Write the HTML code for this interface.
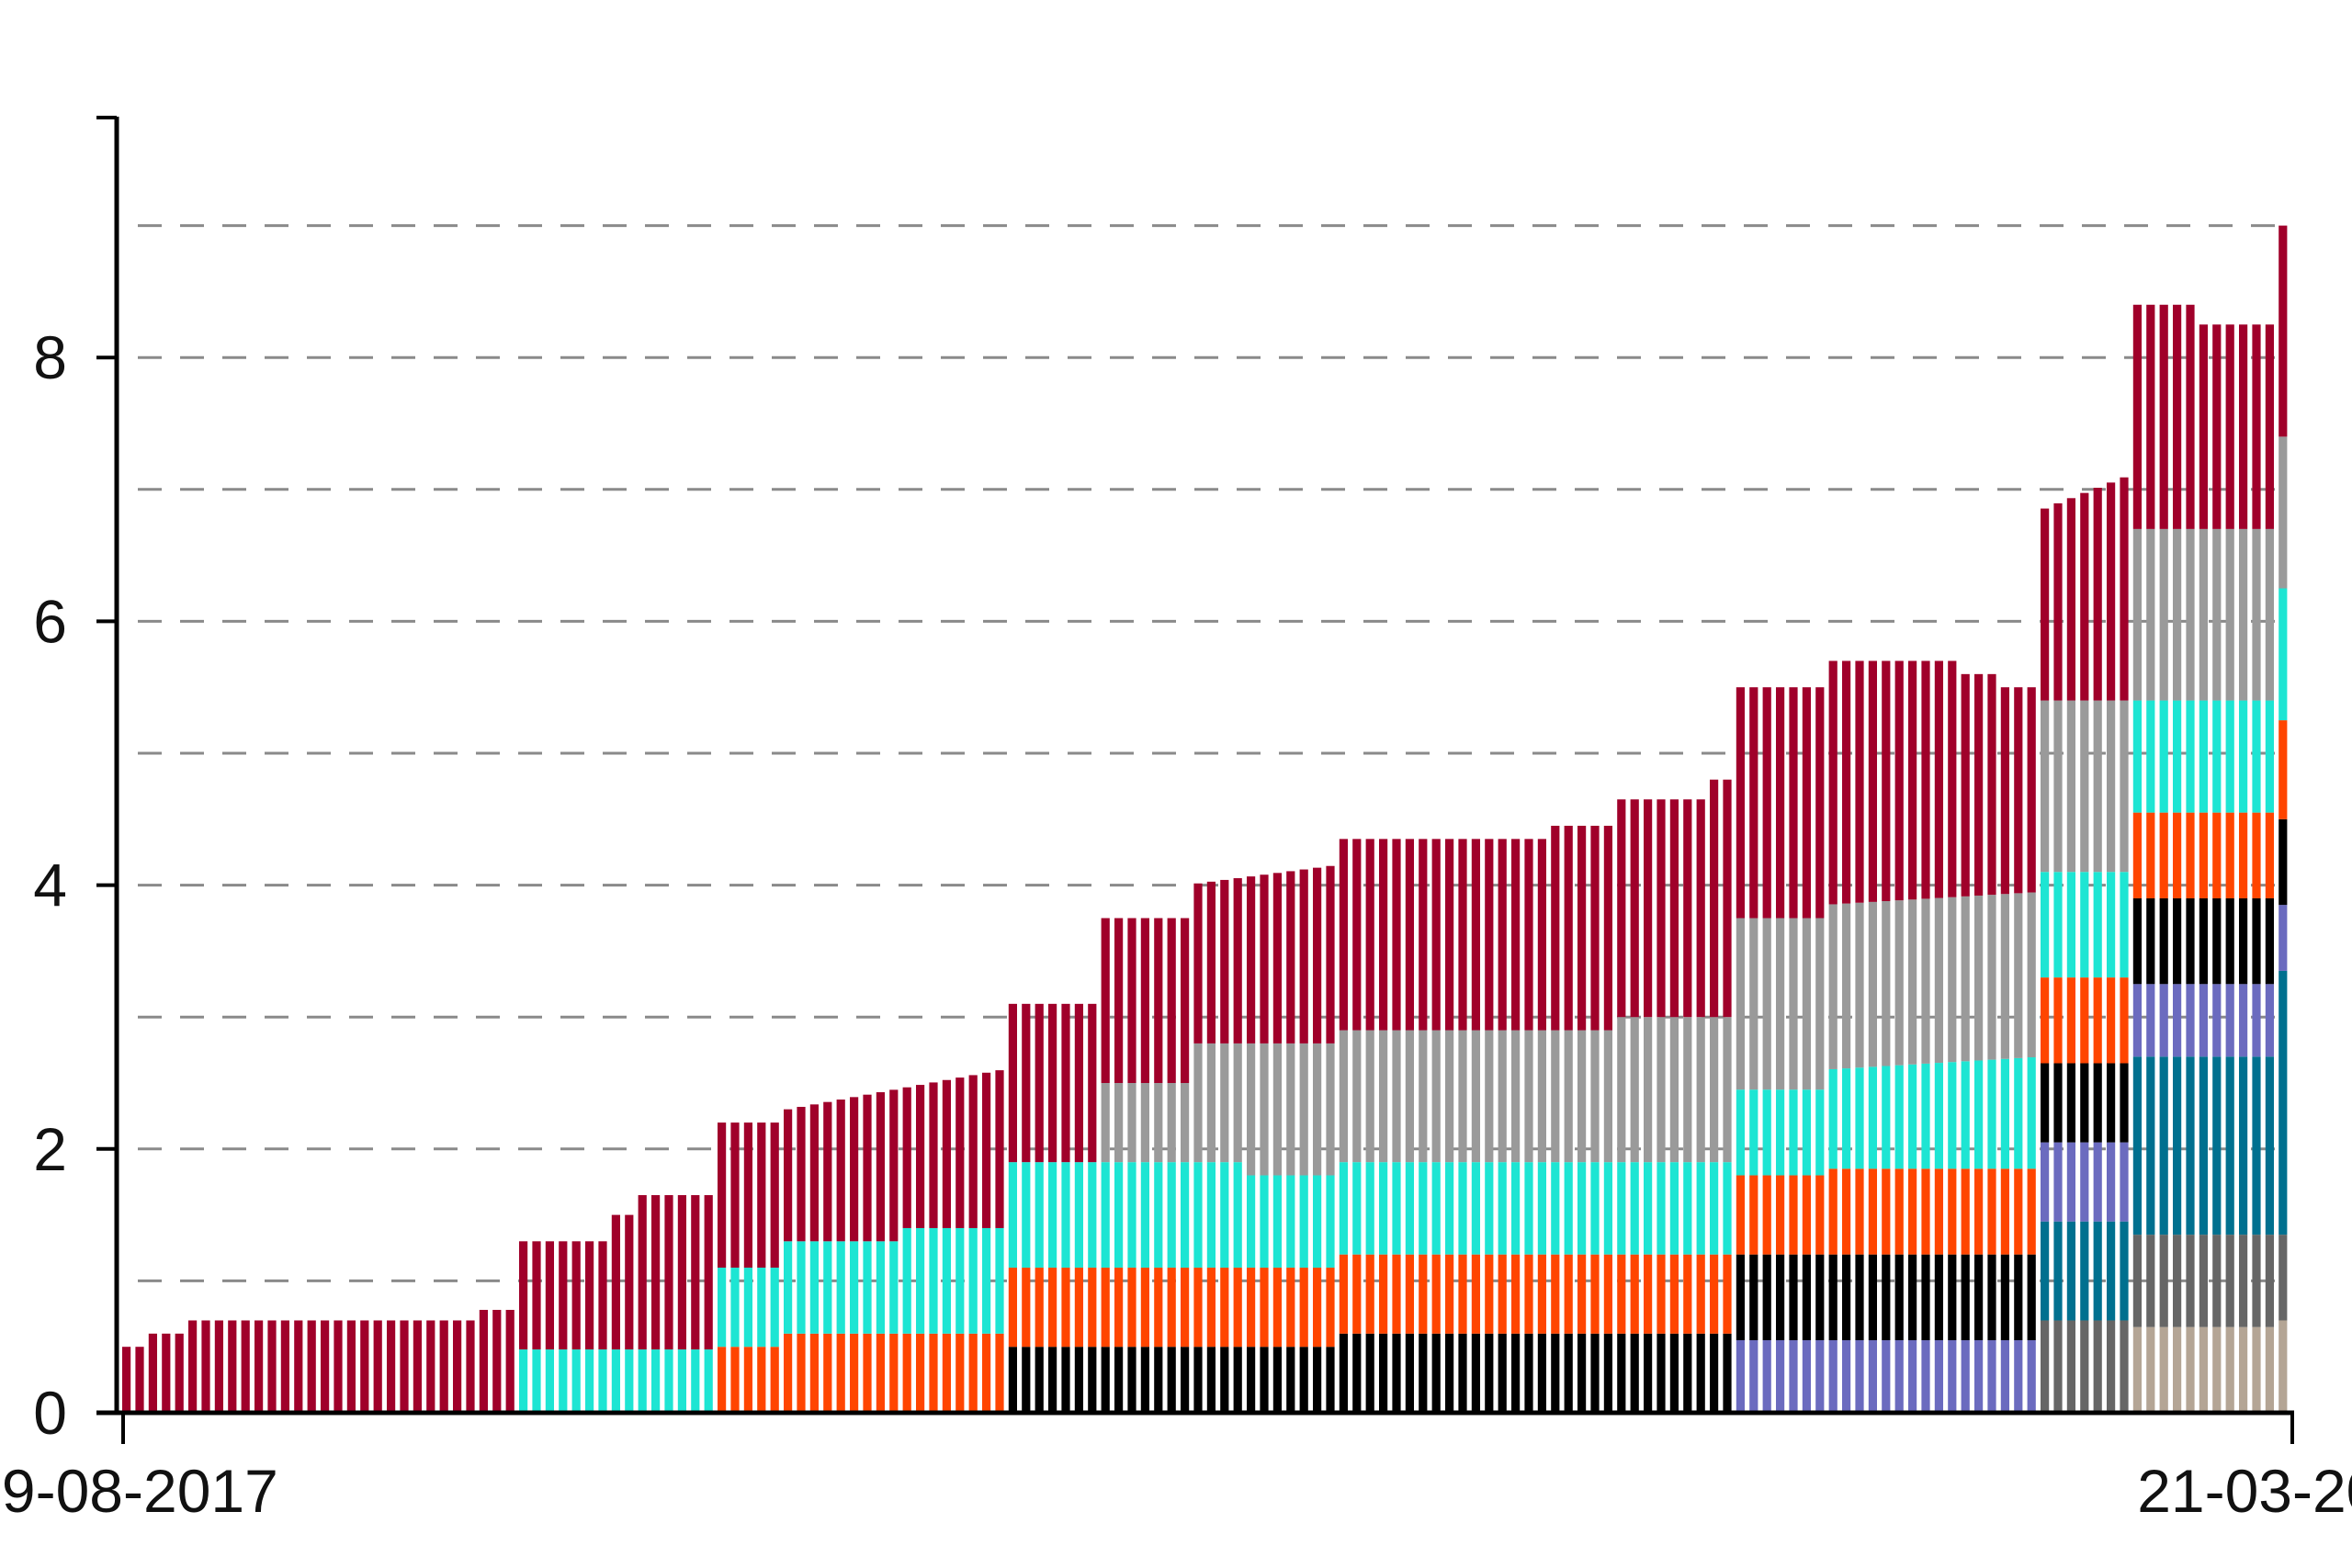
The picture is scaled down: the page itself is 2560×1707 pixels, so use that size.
<!DOCTYPE html>
<html><head><meta charset="utf-8"><style>
html,body{margin:0;padding:0;background:#fff;overflow:hidden}
svg{display:block}
text{font-family:"Liberation Sans",sans-serif;fill:#111}
</style></head><body>
<svg id="s" width="2560" height="1707" xmlns="http://www.w3.org/2000/svg"></svg>
<script>
const S=document.getElementById('s');const NS='http://www.w3.org/2000/svg';
function el(t,a,txt){const e=document.createElementNS(NS,t);for(const k in a)e.setAttribute(k,a[k]);if(txt!=null)e.textContent=txt;S.appendChild(e);return e;}
const Y0=1538,U=143.6,K=1.6327;
const y=v=>Y0-v*U;
for(let v=1;v<=9;v++){el('line',{x1:150,x2:2490,y1:y(v),y2:y(v),stroke:'#8a8a8a','stroke-width':3,'stroke-dasharray':'26 20'});}
const R='#a0002a',C='#1de5d3',O='#ff4500',B='#000',G='#9a9a9a',P='#6b6bbf',T='#00708f',D='#666',E='#b4a595';
const secs=[
[0,130,[],t=>0],
[130,343,[],t=>t>0.9?0.78:0.7],
[343,477,[[C,0.48]],t=>t<0.45?1.3:(t<0.6?1.5:1.65)],
[477,525,[[O,0.5],[C,1.1]],t=>2.2],
[525,668,[[O,0.6],[C,t=>t<0.5?1.3:1.4]],t=>2.3+0.3*t],
[668,730,[[B,0.5],[O,1.1],[C,1.9]],t=>3.1],
[730,790,[[B,0.5],[O,1.1],[C,1.9],[G,2.5]],t=>3.75],
[790,890,[[B,0.5],[O,1.1],[C,t=>t<0.4?1.9:1.8],[G,2.8]],t=>4.0+0.15*t],
[890,1080,[[B,0.6],[O,1.2],[C,1.9],[G,2.9]],t=>t<0.75?4.35:4.45],
[1080,1160,[[B,0.6],[O,1.2],[C,1.9],[G,3.0]],t=>t<0.7?4.65:4.8],
[1160,1215,[[P,0.55],[B,1.2],[O,1.8],[C,2.45],[G,3.75]],t=>5.5],
[1215,1362,[[P,0.55],[B,1.2],[O,1.85],[C,t=>2.6+0.1*t],[G,t=>3.85+0.1*t]],t=>t<0.6?5.7:(t<0.8?5.6:5.5)],
[1362,1418,[[D,0.7],[T,1.45],[P,2.05],[B,2.65],[O,3.3],[C,4.1],[G,5.4]],t=>6.85+0.25*t],
[1418,1518,[[E,0.65],[D,1.35],[T,2.7],[P,3.25],[B,3.9],[O,4.55],[C,5.4],[G,6.7]],t=>t<0.5?8.4:8.25],
[1518,2000,[[E,0.7],[D,1.35],[T,3.35],[P,3.85],[B,4.5],[O,5.25],[C,6.25],[G,7.4]],t=>9.0]
];
const per=14.4,w=9.2;let i=0;
for(let x=133;x<2492;x+=per,i++){
  const dx=(x+w/2)/K;
  const s=secs.find(q=>dx>=q[0]&&dx<q[1]);
  const t=Math.min(1,Math.max(0,(dx-s[0])/(Math.min(s[1],1530)-s[0])));
  let prev=0;
  for(const [c,v] of s[2]){const top=typeof v==='function'?v(t):v;el('rect',{x:x,y:y(top),width:w,height:(top-prev)*U,fill:c});prev=top;}
  let rt=s[3](t);if(s===secs[0])rt=i<2?0.5:(i<5?0.6:0.7);
  el('rect',{x:x,y:y(rt),width:w,height:(rt-prev)*U,fill:R});
}
el('line',{x1:127,x2:127,y1:127,y2:1540,stroke:'#000','stroke-width':5});
el('line',{x1:105,x2:127,y1:128,y2:128,stroke:'#000','stroke-width':4});
el('line',{x1:105,x2:2497,y1:1538,y2:1538,stroke:'#000','stroke-width':5});
for(let v=2;v<=8;v+=2)el('line',{x1:105,x2:127,y1:y(v),y2:y(v),stroke:'#000','stroke-width':4});
el('line',{x1:134,x2:134,y1:1538,y2:1572,stroke:'#000','stroke-width':4});
el('line',{x1:2495,x2:2495,y1:1538,y2:1572,stroke:'#000','stroke-width':4});
for(const v of [0,2,4,6,8])el('text',{x:73,y:y(v)+23,'text-anchor':'end','font-size':66},String(v));
el('text',{x:134,y:1646,'text-anchor':'middle','font-size':66},'19-08-2017');
el('text',{x:2495,y:1646,'text-anchor':'middle','font-size':66},'21-03-2018');
</script>
</body></html>
